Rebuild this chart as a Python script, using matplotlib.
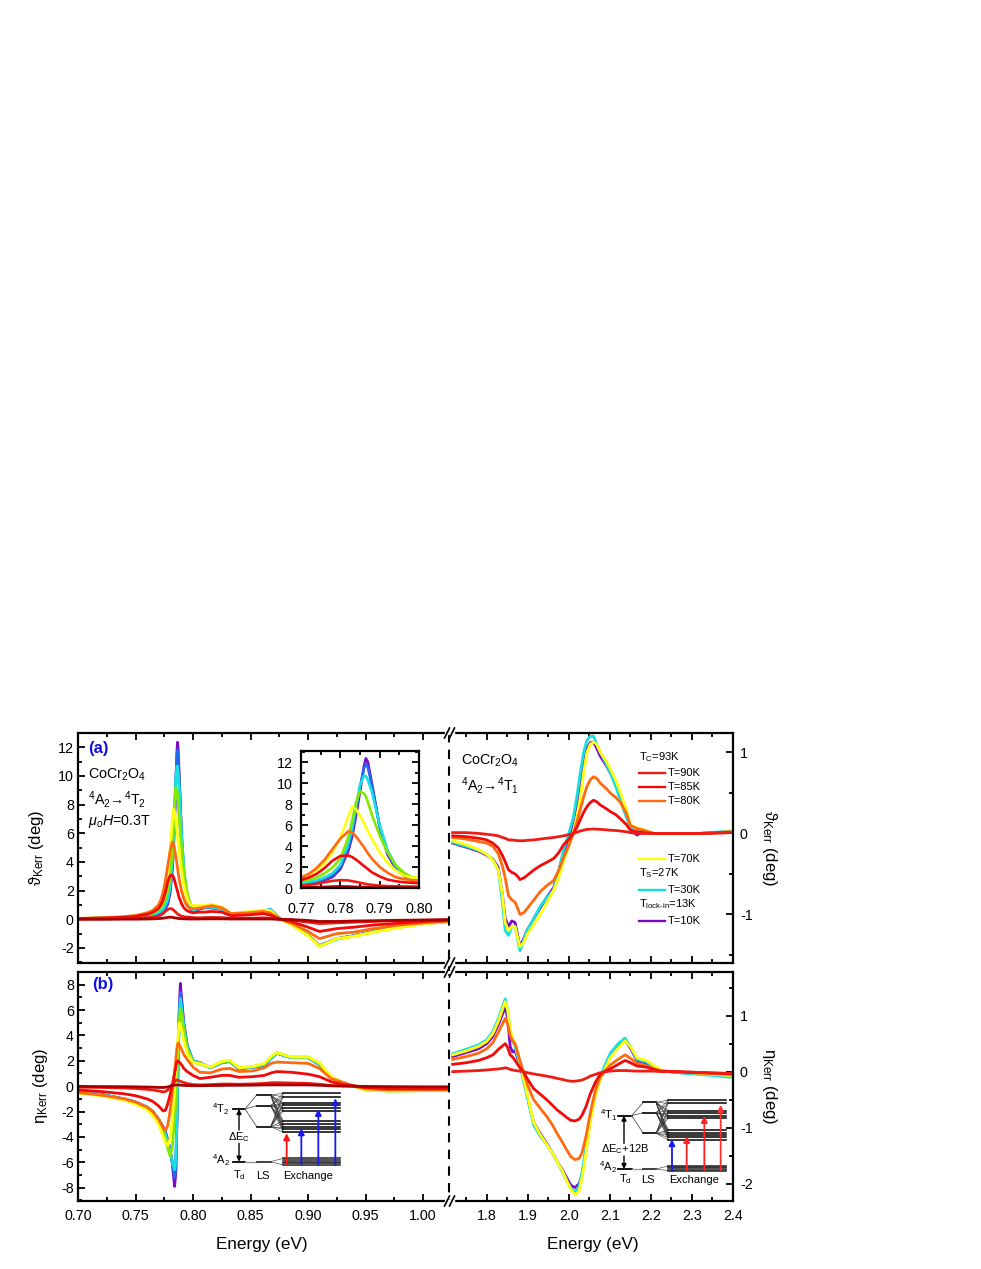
import matplotlib
matplotlib.use('Agg')
import matplotlib.pyplot as plt
from matplotlib.ticker import MultipleLocator

plt.rcParams['font.family'] = ['Liberation Sans', 'DejaVu Sans']
plt.rcParams['mathtext.fontset'] = 'custom'
plt.rcParams['mathtext.rm'] = 'Liberation Sans'
plt.rcParams['mathtext.it'] = 'Liberation Sans:italic'
plt.rcParams['mathtext.bf'] = 'Liberation Sans:bold'
plt.rcParams['mathtext.fallback'] = 'stixsans'
plt.rcParams['axes.unicode_minus'] = False

#colours, coldest first (the warm curves lie on top)
c10, c20, c30, c50, c70, c80, c85, c90, c93 = ('#7a0cc8', '#2468f0', '#18e0e0', '#84e800', '#ffff10',
                                               '#ff6a10', '#f00a0a', '#ee1c14', '#a80000')

#panel (a), left side
xa = [.70, .72, .74, .75, .76, .765, .77, .772, .774, .776, .778, .78, .782, .783, .784, .785, .786, .7865, .787,
      .788, .79, .792, .794, .796, .798, .80, .805, .81, .816, .825, .833, .847, .861, .867, .876, .885, .90, .91,
      .925, .94, .957, .977, 1.0, 1.022]
a10 = [.05, .08, .12, .15, .22, .28, .38, .45, .55, .75, 1.05, 1.8, 3.5, 4.9, 6.9, 9.2, 11.6, 12.35, 12.0, 10.0, 5.8,
       3.2, 1.9, 1.2, .75, .5, .7, .8, .8, .7, .3, .4, .55, .6, 0, -.3, -1.1, -1.85, -1.35, -1.15, -.85, -.55, -.3, -.15]
a20 = [.05, .08, .12, .16, .24, .3, .42, .5, .62, .85, 1.2, 2.0, 3.8, 5.3, 7.4, 9.6, 11.4, 11.8, 11.5, 9.8, 5.9,
       3.4, 2.0, 1.25, .8, .55, .75, .82, .82, .7, .3, .4, .55, .7, .03, -.3, -1.1, -1.85, -1.35, -1.15, -.85, -.55, -.3, -.15]
a30 = [.05, .08, .13, .17, .26, .33, .48, .58, .72, 1.0, 1.4, 2.2, 4.2, 5.7, 7.8, 9.8, 10.7, 10.65, 10.3, 9.2, 6.0,
       3.6, 2.2, 1.4, .9, .6, .8, .85, .85, .72, .32, .42, .55, .68, .05, -.3, -1.1, -1.9, -1.38, -1.18, -.88, -.57, -.3, -.15]
a50 = [.05, .09, .15, .2, .32, .42, .65, .8, 1.0, 1.4, 1.95, 2.8, 4.8, 6.4, 8.2, 9.2, 9.0, 8.7, 8.2, 7.0, 5.0,
       3.4, 2.2, 1.5, 1.05, .9, .9, .9, 1.0, .8, .38, .48, .6, .62, 0, -.33, -1.12, -1.88, -1.36, -1.18, -.88, -.58, -.32, -.16]
a70 = [.06, .1, .18, .25, .42, .58, 1.0, 1.3, 1.7, 2.4, 3.4, 4.8, 6.8, 7.7, 7.5, 6.9, 6.2, 5.8, 5.4, 4.7, 3.4,
       2.4, 1.7, 1.2, 1.0, .95, .95, .95, 1.05, .85, .42, .52, .65, .6, -.02, -.35, -1.15, -1.9, -1.35, -1.2, -.9, -.6, -.32, -.17]
a80 = [.06, .1, .18, .26, .45, .62, 1.0, 1.35, 1.9, 2.7, 3.7, 4.7, 5.4, 5.3, 4.9, 4.4, 3.9, 3.6, 3.3, 2.8, 2.0,
       1.45, 1.05, .85, .75, .72, .78, .85, .95, .8, .4, .45, .55, .45, 0, -.25, -.85, -1.35, -1.0, -.9, -.65, -.42, -.25, -.12]
a85 = [.05, .08, .14, .2, .35, .48, .75, 1.0, 1.35, 1.9, 2.6, 3.05, 3.1, 2.95, 2.7, 2.4, 2.1, 1.95, 1.8, 1.5, 1.1,
       .8, .65, .55, .5, .45, .5, .5, .55, .5, .25, .3, .4, .3, 0, -.15, -.55, -.85, -.65, -.55, -.4, -.28, -.15, -.1]
a90 = [.02, .03, .05, .07, .12, .15, .22, .3, .4, .55, .68, .75, .72, .65, .58, .5, .42, .38, .35, .3, .22,
       .18, .16, .15, .14, .12, .1, .12, .13, .12, .06, .07, .1, .08, 0, -.05, -.2, -.3, -.25, -.2, -.15, -.1, -.07, -.05]
a93 = [0, 0, .01, .01, .02, .03, .05, .06, .08, .1, .13, .15, .14, .12, .1, .09, .08, .07, .06, .05, .04,
       .03, .03, .02, .02, .02, .02, .03, .03, .03, .02, .02, .02, .02, 0, -.02, -.08, -.15, -.15, -.12, -.1, -.07, -.05, -.02]

#panel (b), left side
xb = [.70, .72, .74, .75, .76, .765, .77, .774, .776, .778, .78, .782, .784, .785, .786, .787, .788, .789, .79, .792,
      .795, .80, .806, .815, .825, .832, .84, .852, .862, .868, .873, .885, .90, .91, .92, .93, .94, .95, .97, 1.0, 1.022]
b10 = [-.45, -.65, -1.0, -1.25, -1.65, -2.0, -2.6, -3.2, -3.6, -4.2, -5.0, -6.1, -7.9, -6.9, -2.8, 2.0, 6.0, 8.1, 7.0, 5.0,
       3.2, 2.0, 1.85, 1.45, 1.85, 1.95, 1.4, 1.5, 1.7, 2.2, 2.6, 2.25, 2.25, 1.7, .7, .3, 0, -.25, -.35, -.33, -.32]
b20 = [-.45, -.65, -1.0, -1.25, -1.65, -2.0, -2.6, -3.3, -3.7, -4.3, -5.0, -6.0, -7.2, -6.6, -2.8, 1.8, 5.6, 7.4, 6.5, 4.8,
       3.1, 2.0, 1.85, 1.45, 1.85, 1.95, 1.35, 1.5, 1.6, 2.2, 2.6, 2.25, 2.25, 1.7, .7, .3, 0, -.25, -.35, -.33, -.32]
b30 = [-.45, -.65, -1.0, -1.25, -1.65, -2.0, -2.6, -3.3, -3.8, -4.4, -5.1, -6.0, -6.6, -5.8, -2.6, 1.6, 5.2, 6.9, 6.2, 4.7,
       3.1, 2.0, 1.8, 1.45, 1.85, 1.95, 1.4, 1.5, 1.7, 2.2, 2.6, 2.25, 2.25, 1.7, .7, .3, 0, -.3, -.38, -.35, -.33]
b50 = [-.5, -.7, -1.05, -1.3, -1.75, -2.1, -2.8, -3.6, -4.2, -4.9, -5.5, -4.8, -2.6, -1.2, .8, 3.0, 5.0, 6.1, 5.7, 4.4,
       2.9, 1.9, 1.75, 1.5, 1.9, 2.0, 1.45, 1.55, 1.75, 2.3, 2.65, 2.3, 2.3, 1.8, .72, .3, 0, -.3, -.38, -.35, -.35]
b70 = [-.55, -.75, -1.1, -1.4, -1.85, -2.3, -3.0, -3.95, -4.4, -4.7, -4.2, -2.6, -.4, .9, 2.4, 4.0, 5.0, 4.9, 4.5, 3.6,
       2.6, 1.85, 1.8, 1.5, 1.95, 2.05, 1.45, 1.55, 1.8, 2.35, 2.65, 2.3, 2.3, 1.85, .75, .3, 0, -.3, -.38, -.35, -.35]
b80 = [-.5, -.7, -1.0, -1.25, -1.65, -2.0, -2.6, -3.3, -3.5, -3.1, -2.0, -.5, 1.2, 2.0, 3.0, 3.4, 3.3, 3.1, 2.9, 2.5,
       2.1, 1.5, 1.1, 1.05, 1.35, 1.4, 1.15, 1.2, 1.45, 1.8, 1.9, 1.85, 1.8, 1.4, .6, .3, 0, -.2, -.3, -.3, -.3]
b85 = [-.3, -.42, -.6, -.75, -1.0, -1.2, -1.55, -1.95, -1.9, -1.4, -.7, .1, 1.0, 1.5, 1.95, 2.0, 1.9, 1.8, 1.7, 1.4,
       1.15, .85, .6, .7, .85, .85, .7, .75, .85, 1.05, 1.15, 1.1, .95, .75, .35, .15, .02, -.1, -.2, -.2, -.2]
b90 = [-.08, -.1, -.15, -.18, -.25, -.3, -.38, -.45, -.42, -.3, -.1, .15, .35, .45, .5, .48, .42, .38, .35, .3,
       .2, .12, .1, .12, .17, .17, .15, .18, .22, .27, .28, .25, .22, .15, .05, .03, 0, -.05, -.08, -.1, -.1]
b93 = [-.02, -.03, -.04, -.05, -.07, -.08, -.1, -.1, -.09, -.06, 0, .05, .08, .09, .1, .1, .09, .08, .08, .06,
       .05, .04, .04, .05, .06, .07, .07, .08, .1, .1, .1, .1, .1, .07, .03, .01, 0, -.02, -.04, -.05, -.05]

#panel (a), right side
xc = [1.717, 1.75, 1.78, 1.80, 1.815, 1.828, 1.838, 1.845, 1.853, 1.861, 1.869, 1.875, 1.881, 1.89, 1.898, 1.915, 1.93,
      1.945, 1.963, 1.975, 1.987, 2.0, 2.011, 2.02, 2.028, 2.036, 2.044, 2.052, 2.060, 2.068, 2.077, 2.09, 2.101, 2.115,
      2.126, 2.14, 2.150, 2.166, 2.182, 2.207, 2.255, 2.32, 2.393]
c_t10 = [-.12, -.17, -.22, -.27, -.32, -.42, -.75, -1.05, -1.15, -1.08, -1.1, -1.25, -1.4, -1.3, -1.2, -1.05, -.92, -.8, -.67,
         -.47, -.25, -.05, .15, .37, .6, .85, 1.05, 1.12, 1.13, 1.05, .95, .85, .75, .6, .45, .25, .05, -.02, .03, 0, 0, 0, .02]
c_t30 = [-.11, -.16, -.21, -.26, -.33, -.45, -.85, -1.2, -1.26, -1.15, -1.15, -1.3, -1.45, -1.32, -1.2, -1.05, -.9, -.8, -.7,
         -.48, -.2, .0, .2, .47, .75, 1.0, 1.15, 1.2, 1.2, 1.1, 1.0, .87, .75, .57, .4, .2, .08, .06, .03, 0, 0, 0, .03]
c_t70 = [-.09, -.14, -.2, -.26, -.33, -.45, -.75, -1.1, -1.2, -1.15, -1.15, -1.28, -1.4, -1.35, -1.25, -1.12, -1.0, -.87, -.7,
         -.55, -.35, -.15, .02, .22, .45, .75, 1.0, 1.1, 1.13, 1.1, 1.0, .9, .8, .65, .5, .3, .1, .07, .05, 0, 0, 0, .02]
c_t80 = [-.05, -.07, -.1, -.12, -.16, -.25, -.4, -.55, -.77, -.82, -.85, -.92, -1.0, -.98, -.93, -.82, -.72, -.65, -.58,
         -.46, -.3, -.15, 0, .15, .3, .45, .58, .66, .7, .68, .62, .56, .5, .44, .38, .25, .1, .06, .04, 0, 0, 0, .02]
c_t85 = [-.03, -.04, -.06, -.08, -.12, -.18, -.27, -.35, -.45, -.48, -.5, -.53, -.57, -.55, -.52, -.45, -.4, -.36, -.31,
         -.24, -.14, -.07, 0, .08, .17, .26, .33, .38, .41, .39, .35, .31, .27, .23, .18, .11, .04, .02, .01, 0, 0, 0, .01]
c_t90 = [.01, .01, 0, -.01, -.02, -.03, -.05, -.06, -.08, -.08, -.085, -.09, -.09, -.09, -.085, -.08, -.07, -.06, -.05,
         -.04, -.03, -.015, 0, .015, .03, .04, .05, .052, .055, .052, .05, .045, .04, .035, .03, .02, .01, 0, 0, 0, 0, 0, .01]

#panel (b), right side
xd = [1.717, 1.75, 1.78, 1.80, 1.815, 1.83, 1.84, 1.845, 1.851, 1.857, 1.863, 1.869, 1.88, 1.889, 1.90, 1.914, 1.93, 1.946,
      1.96, 1.971, 1.985, 1.995, 2.005, 2.015, 2.025, 2.032, 2.042, 2.052, 2.064, 2.076, 2.09, 2.101, 2.12, 2.137, 2.15,
      2.166, 2.18, 2.190, 2.205, 2.225, 2.255, 2.30, 2.337, 2.398]
d_t10 = [.27, .34, .41, .5, .63, .87, 1.06, 1.15, .95, .45, .35, .38, .12, -.1, -.48, -.9, -1.1, -1.28, -1.45, -1.6, -1.76, -1.9,
         -2.03, -2.07, -2.0, -1.85, -1.4, -.85, -.42, -.12, .12, .3, .47, .57, .42, .2, .17, .15, .09, .02, -.01, -.03, -.04, -.07]
d_t30 = [.32, .4, .48, .57, .72, .98, 1.2, 1.3, 1.1, .7, .55, .45, .13, -.15, -.5, -.95, -1.15, -1.3, -1.45, -1.6, -1.8, -1.95,
         -2.08, -2.15, -2.05, -1.8, -1.35, -.8, -.38, -.1, .15, .33, .5, .6, .45, .22, .19, .17, .1, .02, -.01, -.04, -.06, -.1]
d_t70 = [.3, .37, .45, .54, .68, .93, 1.15, 1.25, 1.1, .75, .6, .5, .2, -.1, -.45, -.9, -1.12, -1.3, -1.45, -1.6, -1.78, -1.95,
         -2.1, -2.2, -2.13, -1.9, -1.45, -.9, -.45, -.15, .08, .25, .42, .55, .45, .25, .22, .2, .12, .03, 0, -.02, -.04, -.07]
d_t80 = [.22, .27, .33, .41, .52, .73, .88, .95, .85, .65, .55, .5, .22, 0, -.25, -.5, -.65, -.8, -.95, -1.1, -1.27, -1.4,
         -1.52, -1.57, -1.55, -1.45, -1.15, -.75, -.35, -.1, .02, .12, .22, .3, .24, .15, .12, .1, .06, .01, 0, -.02, -.03, -.05]
d_t85 = [.13, .16, .2, .25, .3, .41, .47, .5, .43, .3, .26, .2, .08, 0, -.14, -.3, -.4, -.5, -.6, -.68, -.76, -.82,
         -.87, -.88, -.85, -.78, -.62, -.4, -.2, -.05, .02, .05, .13, .2, .16, .1, .09, .08, .04, .01, 0, -.01, -.02, -.04]
d_t90 = [0, .01, .02, .03, .04, .05, .06, .07, .06, .04, .03, .02, .01, 0, -.02, -.04, -.06, -.08, -.1, -.12, -.14, -.16,
         -.17, -.17, -.16, -.15, -.12, -.08, -.05, -.02, 0, .01, .02, .02, .015, .01, .01, .01, .01, 0, 0, -.01, -.02, -.03]

#legend text
legend_rows = [(757, r'T$_{\mathrm{C}}$=93K', None), (773, 'T=90K', c90), (787, 'T=85K', c85), (801, 'T=80K', c80),
               (859, 'T=70K', c70), (873, r'T$_{\mathrm{S}}$=27K', None), (890, 'T=30K', c30),
               (904, r'T$_{\mathrm{lock\text{-}in}}$=13K', None), (921, 'T=10K', c10)]

W, H = 981, 1269
fig = plt.figure(figsize=(W/100, H/100), dpi=100)

def box(x0, y0, x1, y1):
    return [x0/W, 1-y1/H, (x1-x0)/W, (y1-y0)/H]

def style(ax, xmaj, xmin, ymaj, ymin, side=None):
    ax.xaxis.set_major_locator(MultipleLocator(xmaj))
    ax.xaxis.set_minor_locator(MultipleLocator(xmin))
    ax.yaxis.set_major_locator(MultipleLocator(ymaj))
    ax.yaxis.set_minor_locator(MultipleLocator(ymin))
    ax.tick_params(which='major', direction='in', length=5, width=1.3, top=True, labelsize=10.3, pad=3)
    ax.tick_params(which='minor', direction='in', length=3, width=1.3, top=True)
    ax.tick_params(axis='x', pad=6)
    for s in ax.spines.values():
        s.set_linewidth(1.6)
    if side == 'left':
        ax.spines['right'].set_visible(False)
        ax.tick_params(which='both', right=False)
    if side == 'right':
        ax.spines['left'].set_visible(False)
        ax.yaxis.tick_right()
        ax.tick_params(which='both', left=False, right=True, top=True)
        ax.tick_params(axis='y', pad=5)

def curves(ax, x, series, colors, lw=2.0):
    for y, c in zip(series, colors):
        ax.plot(x, y, color=c, lw=lw, solid_joinstyle='round')

cols9 = [c10, c20, c30, c50, c70, c80, c85, c90, c93]
cols6 = [c10, c30, c70, c80, c85, c90]
aset = [a10, a20, a30, a50, a70, a80, a85, a90, a93]
bset = [b10, b20, b30, b50, b70, b80, b85, b90, b93]

ax1 = fig.add_axes(box(78, 733, 449, 963))
curves(ax1, xa, aset, cols9)
ax1.set_xlim(.70, 1.0226)
ax1.set_ylim(-3.05, 13)
style(ax1, .05, .025, 2, 1, 'left')
ax1.tick_params(axis='x', which='both', labelbottom=False)

ax2 = fig.add_axes(box(449, 733, 733, 963))
curves(ax2, xc, [c_t10, c_t30, c_t70, c_t80, c_t85, c_t90], cols6)
ax2.set_xlim(1.708, 2.4)
ax2.set_ylim(-1.6, 1.24)
style(ax2, .1, .05, 1, .5, 'right')
ax2.tick_params(axis='x', which='both', labelbottom=False)

ax3 = fig.add_axes(box(78, 972, 449, 1201))
curves(ax3, xb, bset, cols9)
ax3.set_xlim(.70, 1.0226)
ax3.set_ylim(-9.05, 9)
style(ax3, .05, .025, 2, 1, 'left')
ax3.set_xticks([.70, .75, .80, .85, .90, .95, 1.00])
ax3.set_xticklabels(['0.70', '0.75', '0.80', '0.85', '0.90', '0.95', '1.00'])

ax4 = fig.add_axes(box(449, 972, 733, 1201))
curves(ax4, xd, [d_t10, d_t30, d_t70, d_t80, d_t85, d_t90], cols6)
ax4.set_xlim(1.708, 2.4)
ax4.set_ylim(-2.31, 1.78)
style(ax4, .1, .05, 1, .5, 'right')

#zoomed peak
ins = fig.add_axes(box(301, 751, 419, 888))
curves(ins, xa, aset, cols9, lw=1.9)
ins.set_xlim(.77, .80)
ins.set_ylim(0, 13.05)
style(ins, .01, .005, 2, 1)
ins.tick_params(which='both', right=True)
ins.tick_params(axis='x', pad=10)
ins.tick_params(axis='y', pad=6)
ins.set_xticks([.77, .78, .79, .80])
ins.set_xticklabels(['0.77', '0.78', '0.79', '0.80'])

#overlay in pixel coordinates for labels and schemes
ov = fig.add_axes([0, 0, 1, 1], zorder=10)
ov.set_xlim(0, W)
ov.set_ylim(H, 0)
ov.axis('off')
ov.patch.set_alpha(0)

def t(x, y, s, size=10.3, ha='left', **kw):
    ov.text(x, y, s, fontsize=size, ha=ha, va='center', **kw)

t(88, 749, '(a)', 12, color='#1010e0', fontweight='bold')
t(92, 985, '(b)', 12, color='#1010e0', fontweight='bold')
t(88, 775, r'CoCr$_2$O$_4$')
t(88, 799, r'$^4$A$_2$→$^4$T$_2$')
t(88, 822, r'$\mu_o H$=0.3T')
t(461, 761, r'CoCr$_2$O$_4$')
t(461, 786, r'$^4$A$_2$→$^4$T$_1$')

t(36, 848, r'$\mathrm{\vartheta}_{\mathrm{Kerr}}$ (deg)', 12, ha='center', rotation=90)
t(40, 1086, r'$\mathrm{\eta}_{\mathrm{Kerr}}$ (deg)', 12, ha='center', rotation=90)
t(770, 848, r'$\mathrm{\vartheta}_{\mathrm{Kerr}}$ (deg)', 12, ha='center', rotation=270)
t(770, 1086, r'$\mathrm{\eta}_{\mathrm{Kerr}}$ (deg)', 12, ha='center', rotation=270)
t(262, 1244, 'Energy (eV)', 12.3, ha='center')
t(593, 1244, 'Energy (eV)', 12.3, ha='center')

for y, s, c in legend_rows:
    if c is None:
        t(639, y, s, 8)
    else:
        ov.plot([639, 665], [y, y], color=c, lw=1.7)
        t(668, y, s, 8)

#axis break
ov.plot([449, 449], [733, 1201], color='k', lw=1.5, dashes=(4.5, 3.5))
for y in (733, 963, 972, 1201):
    ov.plot([446, 453], [y, y], color='w', lw=2.4)
    for dx in (-2, 3):
        ov.plot([449+dx-2.5, 449+dx+2.5], [y+5, y-5], color='k', lw=1.2, clip_on=False)

def scheme(ox, oy, td, ls_x, ls_y, ex_x, ex_top, ex_bot, a_y, arrows, gap, names, gap_text):
    f = lambda zx, zy: (ox+zx/3, oy+zy/3)
    def seg(x0, y0, x1, y1, **kw):
        a, b = f(x0, y0), f(x1, y1)
        ov.plot([a[0], b[0]], [a[1], b[1]], **kw)
    upper = td[2]
    seg(td[0], upper, td[1], upper, color='k', lw=1.3)
    seg(td[0], a_y, td[1], a_y, color='k', lw=1.3)
    seg(td[1], a_y, ls_x[0], a_y, color='#999999', lw=1)
    seg(ls_x[0], a_y, ls_x[1], a_y, color='#333333', lw=1.3)
    for y in ls_y:
        seg(td[1], upper, ls_x[0], y, color='#555555', lw=.6)
        seg(ls_x[0], y, ls_x[1], y, color='k', lw=1.2)
        for e in ex_top:
            seg(ls_x[1], y, ex_x[0], e, color='#333333', lw=.4)
    for e in ex_top:
        seg(ex_x[0], e, ex_x[1], e, color='k', lw=1.1)
    for i, e in enumerate(ex_bot):
        if i in (0, len(ex_bot)-1):
            seg(ls_x[1], a_y, ex_x[0], e, color='#555555', lw=.5)
        seg(ex_x[0], e, ex_x[1], e, color='#333333', lw=1.2)
    for x, y0, y1, col in arrows:
        a, b = f(x, y0), f(x, y1)
        ov.annotate('', xy=b, xytext=a, arrowprops=dict(arrowstyle='-|>', color=col, lw=1.3, mutation_scale=9,
                                                        shrinkA=0, shrinkB=0))
    a, b = f(td[3], gap[0]), f(td[3], upper)
    ov.annotate('', xy=b, xytext=a, arrowprops=dict(arrowstyle='-|>', color='k', lw=1, mutation_scale=7, shrinkA=0, shrinkB=0))
    a, b = f(td[3], gap[1]), f(td[3], a_y)
    ov.annotate('', xy=b, xytext=a, arrowprops=dict(arrowstyle='-|>', color='k', lw=1, mutation_scale=7, shrinkA=0, shrinkB=0))
    for zx, zy, s, size, ha in names:
        p = f(zx, zy)
        t(p[0], p[1], s, size, ha=ha)
    p = f(*gap_text[:2])
    t(p[0], p[1], gap_text[2], 8, ha='center')

scheme(200, 1085, (100, 135, 72, 117), (170, 212), [30, 62, 125], (250, 420),
       [25, 35, 55, 60, 70, 77, 108, 118, 125, 133, 142], [220, 225, 230, 235, 240], 230,
       [(260, 240, 145, '#ff1010'), (304, 240, 130, '#1818f0'), (355, 240, 72, '#1818f0'), (406, 240, 40, '#1818f0')],
       (135, 175),
       [(62, 72, r'$^4$T$_2$', 8, 'center'), (62, 225, r'$^4$A$_2$', 8, 'center'), (117, 270, r'T$_{\mathrm{d}}$', 8, 'center'),
        (190, 272, 'LS', 8, 'center'), (323, 272, 'Exchange', 8, 'center')],
       (117, 155, r'$\Delta$E$_{\mathrm{C}}$'))

scheme(590, 1090, (85, 125, 77, 102), (160, 198), [37, 68, 130], (235, 408),
       [30, 40, 62, 68, 78, 84, 120, 128, 135, 142, 150], [228, 232, 235, 239, 242], 237,
       [(246, 242, 148, '#1818f0'), (290, 242, 138, '#ff2020'), (343, 242, 78, '#ff2020'), (392, 242, 45, '#ff3030')],
       (160, 198),
       [(55, 75, r'$^4$T$_1$', 8, 'center'), (55, 232, r'$^4$A$_2$', 8, 'center'), (105, 268, r'T$_{\mathrm{d}}$', 8, 'center'),
        (173, 270, 'LS', 8, 'center'), (312, 270, 'Exchange', 8, 'center')],
       (105, 178, r'$\Delta$E$_{\mathrm{C}}$+12B'))

fig.savefig('out.png', dpi=100)
